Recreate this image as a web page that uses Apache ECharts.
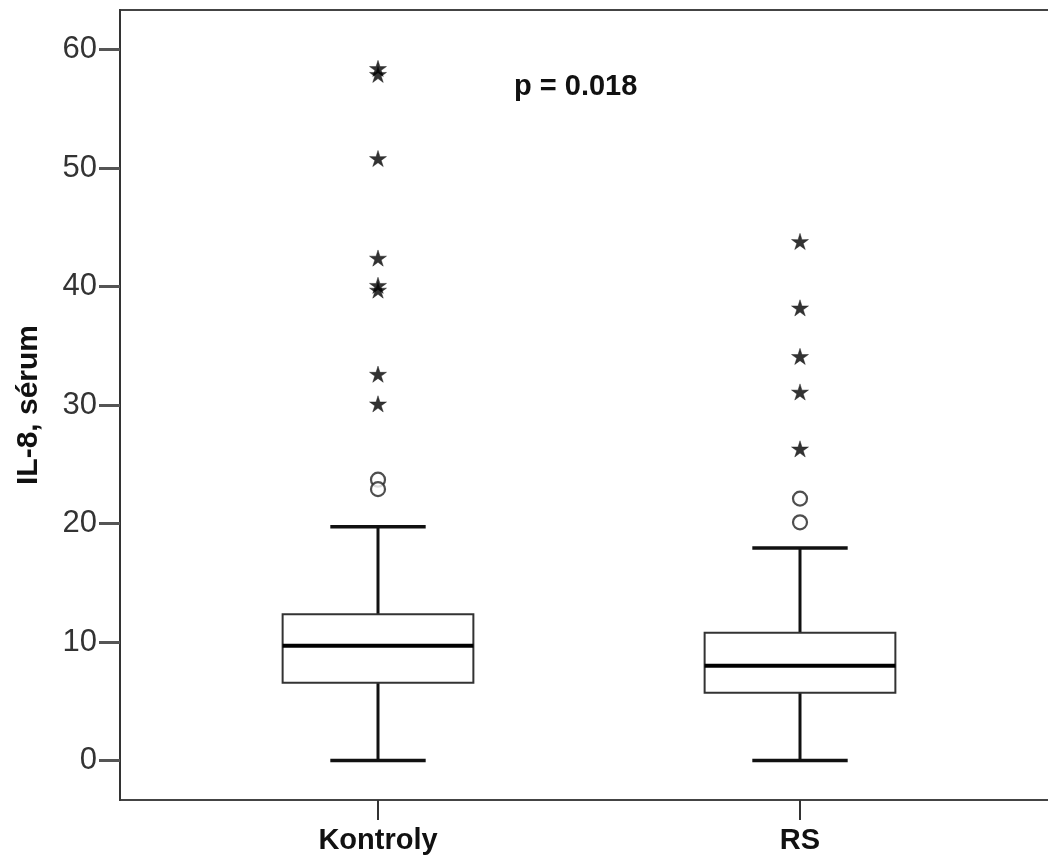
<!DOCTYPE html>
<html><head><meta charset="utf-8">
<script src="https://cdn.jsdelivr.net/npm/echarts@6/dist/echarts.min.js"></script>
<style>html,body{margin:0;padding:0;background:#fff}#c{width:1048px;height:859px}</style>
</head><body><div id="c"></div>
<script>
// ---- data ----
const categories = ['Kontroly', 'RS'];
// min, Q1, median, Q3, max (whisker ends)
const kontrolyBox = [0, 6.57, 9.69, 12.34, 19.73];
const rsBox = [0, 5.72, 8.0, 10.79, 17.93];
// outliers (circles) and extreme values (stars)
const kontrolyCircles = [23.7, 22.9];
const rsCircles = [22.1, 20.1];
const kontrolyStars = [58.4, 57.9, 50.8, 42.4, 40.1, 39.7, 32.6, 30.1];
const rsStars = [43.8, 38.2, 34.1, 31.1, 26.3];
const yTicks = [0, 10, 20, 30, 40, 50, 60];
const yName = 'IL-8, sérum';
const pText = 'p = 0.018';

// ---- build ----
const boxStats = [kontrolyBox, rsBox];
const circleSets = [kontrolyCircles, rsCircles];
const starSets = [kontrolyStars, rsStars];
const FONT = "'Liberation Sans', Arial, sans-serif";
const STAR = 'path://M0 -10 L2.2 -3 L9.51 -3.09 L3.6 1.2 L5.88 8.09 L0 3.8 L-5.88 8.09 L-3.6 1.2 L-9.51 -3.09 L-2.2 -3 Z';

function renderBox(params, api) {
  const i = api.value(0);
  const band = api.size([1, 0])[0];
  const bw = band * 0.452, cw = bw / 2;
  const pMin = api.coord([i, api.value(1)]);
  const pQ1 = api.coord([i, api.value(2)]);
  const pMed = api.coord([i, api.value(3)]);
  const pQ3 = api.coord([i, api.value(4)]);
  const pMax = api.coord([i, api.value(5)]);
  const cx = pMed[0];
  const wS = { stroke: '#111', lineWidth: 3 };
  return {
    type: 'group',
    children: [
      { type: 'line', shape: { x1: cx, y1: pQ3[1], x2: cx, y2: pMax[1] }, style: wS },
      { type: 'line', shape: { x1: cx, y1: pQ1[1], x2: cx, y2: pMin[1] }, style: wS },
      { type: 'line', shape: { x1: cx - cw / 2, y1: pMax[1], x2: cx + cw / 2, y2: pMax[1] }, style: { stroke: '#111', lineWidth: 3.5 } },
      { type: 'line', shape: { x1: cx - cw / 2, y1: pMin[1], x2: cx + cw / 2, y2: pMin[1] }, style: { stroke: '#111', lineWidth: 3.5 } },
      { type: 'rect', shape: { x: cx - bw / 2, y: pQ3[1], width: bw, height: pQ1[1] - pQ3[1] }, style: { fill: '#fff', stroke: '#333', lineWidth: 2 } },
      { type: 'line', shape: { x1: cx - bw / 2, y1: pMed[1], x2: cx + bw / 2, y2: pMed[1] }, style: { stroke: '#000', lineWidth: 4 } }
    ]
  };
}

const circleData = [];
const starData = [];
categories.forEach((c, i) => {
  circleSets[i].forEach(v => circleData.push([c, v]));
  starSets[i].forEach(v => starData.push([c, v]));
});

const chart = echarts.init(document.getElementById('c'));
chart.setOption({
  animation: false,
  backgroundColor: '#fff',
  title: {
    text: pText, left: 514, top: 72, padding: 0,
    textStyle: { fontSize: 29, fontWeight: 'bold', color: '#111', fontFamily: FONT }
  },
  grid: [
    { left: 167, right: 37, top: 10, bottom: 59, outerBoundsMode: 'none' },
    { left: 120, width: 1000, top: 10, bottom: 59, outerBoundsMode: 'none', show: true, borderColor: '#444', borderWidth: 2, backgroundColor: 'transparent' }
  ],
  xAxis: [
    {
      type: 'category', data: categories, gridIndex: 0, position: 'bottom',
      axisLine: { show: false, onZero: false },
      axisTick: { show: true, alignWithLabel: true, length: 20, lineStyle: { color: '#333', width: 2 } },
      axisLabel: { fontSize: 29, fontWeight: 'bold', color: '#111', margin: 26, fontFamily: FONT },
      splitLine: { show: false }
    },
    { type: 'value', gridIndex: 1, show: false, min: 0, max: 1 }
  ],
  yAxis: [
    {
      type: 'value', gridIndex: 0, min: -3.33, max: 63.33, offset: 47,
      name: yName, nameLocation: 'middle', nameRotate: 90, nameGap: 76,
      nameTextStyle: { fontSize: 30, fontWeight: 'bold', color: '#111', fontFamily: FONT },
      axisLine: { show: true, lineStyle: { color: '#333', width: 2 } },
      axisTick: { show: true, customValues: yTicks, length: 21, lineStyle: { color: '#555', width: 3 } },
      axisLabel: { customValues: yTicks, fontSize: 31, color: '#333', margin: 23, fontFamily: FONT },
      splitLine: { show: false }
    },
    { type: 'value', gridIndex: 1, show: false, min: 0, max: 1 }
  ],
  series: [
    {
      type: 'custom', xAxisIndex: 0, yAxisIndex: 0,
      renderItem: renderBox,
      encode: { x: 0, y: [1, 2, 3, 4, 5] },
      data: boxStats.map((s, i) => [i].concat(s))
    },
    {
      type: 'scatter', xAxisIndex: 0, yAxisIndex: 0,
      data: circleData, symbol: 'circle', symbolSize: 14,
      itemStyle: { color: '#fff', borderColor: '#222', borderWidth: 2.2 }
    },
    {
      type: 'scatter', xAxisIndex: 0, yAxisIndex: 0,
      data: starData, symbol: STAR, symbolSize: 17, symbolKeepAspect: true,
      itemStyle: { color: '#000', borderColor: '#111', borderWidth: 0.5 }
    }
  ]
});
</script>
</body></html>
